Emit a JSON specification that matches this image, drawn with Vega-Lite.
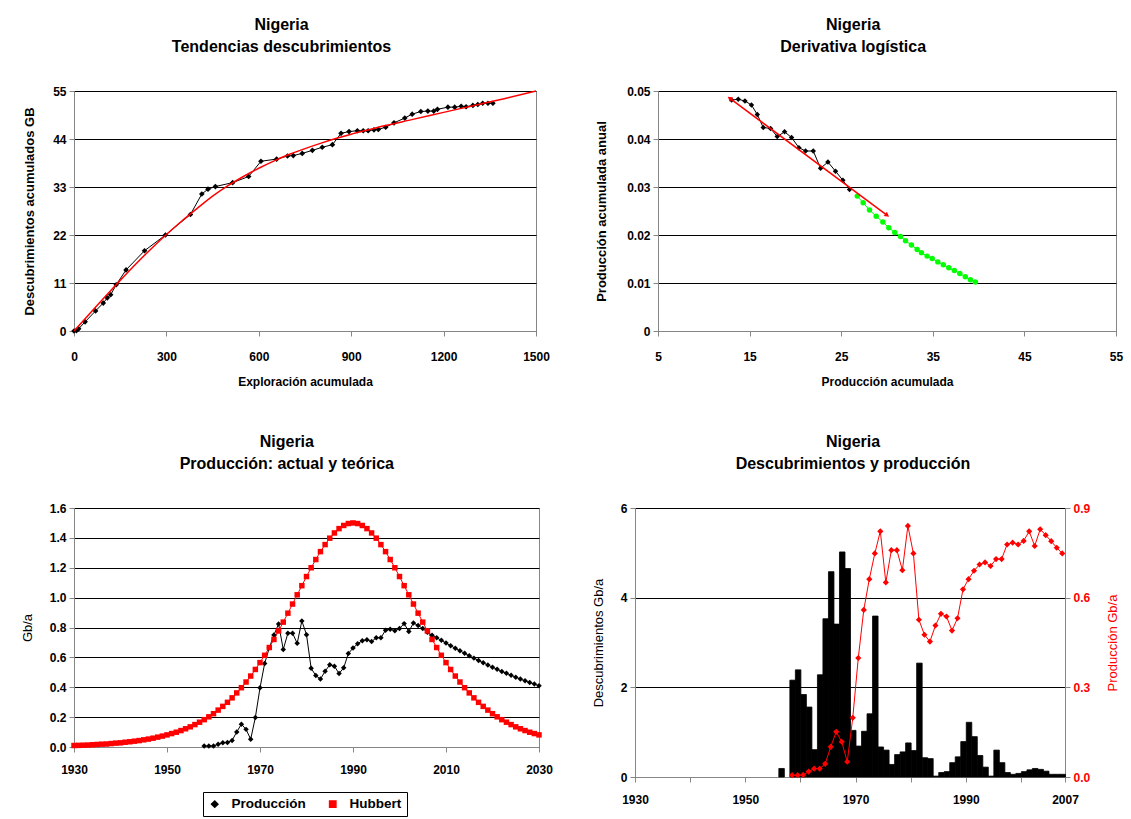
{
  "$schema": "https://vega.github.io/schema/vega-lite/v6.json",
  "padding": {"left": 20, "top": 16, "right": 2, "bottom": 0},
  "background": "white",
  "datasets": {
    "tl_obs": [
      {"x": 0, "y": 0}, {"x": 8, "y": 0.1}, {"x": 15, "y": 0.5}, {"x": 36, "y": 2.1}, {"x": 70, "y": 4.6}, {"x": 95, "y": 6.4}, {"x": 108, "y": 7.6}, {"x": 119, "y": 8.3}, {"x": 137, "y": 10.6}, {"x": 169, "y": 14.0}, {"x": 229, "y": 18.4}, {"x": 297, "y": 22.0}, {"x": 378, "y": 26.7}, {"x": 415, "y": 31.4}, {"x": 435, "y": 32.5}, {"x": 459, "y": 33.1}, {"x": 515, "y": 34.0}, {"x": 567, "y": 35.4}, {"x": 607, "y": 38.9}, {"x": 658, "y": 39.4}, {"x": 693, "y": 40.1}, {"x": 712, "y": 40.2}, {"x": 741, "y": 40.7}, {"x": 774, "y": 41.4}, {"x": 806, "y": 42.1}, {"x": 839, "y": 42.7}, {"x": 867, "y": 45.3}, {"x": 893, "y": 45.7}, {"x": 920, "y": 45.9}, {"x": 939, "y": 45.9}, {"x": 955, "y": 45.9}, {"x": 974, "y": 46.1}, {"x": 988, "y": 46.2}, {"x": 1012, "y": 46.7}, {"x": 1039, "y": 47.7}, {"x": 1074, "y": 48.8}, {"x": 1098, "y": 49.7}, {"x": 1126, "y": 50.3}, {"x": 1149, "y": 50.4}, {"x": 1168, "y": 50.4}, {"x": 1180, "y": 50.8}, {"x": 1214, "y": 51.3}, {"x": 1236, "y": 51.3}, {"x": 1257, "y": 51.5}, {"x": 1273, "y": 51.4}, {"x": 1295, "y": 51.7}, {"x": 1311, "y": 51.9}, {"x": 1327, "y": 52.2}, {"x": 1344, "y": 52.2}, {"x": 1360, "y": 52.2}
    ],
    "tl_fit": [
      {"x": 0, "y": 0}, {"x": 50, "y": 3.9}, {"x": 100, "y": 7.8}, {"x": 150, "y": 11.6}, {"x": 200, "y": 15.3}, {"x": 250, "y": 18.8}, {"x": 300, "y": 22.1}, {"x": 350, "y": 25.2}, {"x": 400, "y": 28.1}, {"x": 450, "y": 30.9}, {"x": 500, "y": 33.3}, {"x": 550, "y": 35.4}, {"x": 600, "y": 37.3}, {"x": 650, "y": 39.0}, {"x": 700, "y": 40.5}, {"x": 750, "y": 41.8}, {"x": 800, "y": 43.0}, {"x": 850, "y": 44.1}, {"x": 900, "y": 45.1}, {"x": 950, "y": 46.0}, {"x": 1000, "y": 46.9}, {"x": 1100, "y": 48.5}, {"x": 1200, "y": 50.1}, {"x": 1300, "y": 51.7}, {"x": 1400, "y": 53.3}, {"x": 1500, "y": 55.0}
    ],
    "tr_obs": [
      {"x": 13.04, "y": 0.0481}, {"x": 13.76, "y": 0.0483}, {"x": 14.49, "y": 0.0479}, {"x": 15.2, "y": 0.0471}, {"x": 15.84, "y": 0.0451}, {"x": 16.49, "y": 0.0424}, {"x": 17.29, "y": 0.0422}, {"x": 18.02, "y": 0.0405}, {"x": 18.82, "y": 0.0415}, {"x": 19.58, "y": 0.0403}, {"x": 20.38, "y": 0.0382}, {"x": 21.11, "y": 0.0375}, {"x": 21.95, "y": 0.0375}, {"x": 22.75, "y": 0.0339}, {"x": 23.55, "y": 0.0352}, {"x": 24.38, "y": 0.0333}, {"x": 25.18, "y": 0.0314}, {"x": 25.91, "y": 0.0295}
    ],
    "tr_green": [
      {"x": 26.75, "y": 0.0281}, {"x": 27.4, "y": 0.0267}, {"x": 28.09, "y": 0.0252}, {"x": 28.82, "y": 0.0239}, {"x": 29.55, "y": 0.0227}, {"x": 30.2, "y": 0.0215}, {"x": 30.85, "y": 0.0205}, {"x": 31.47, "y": 0.0197}, {"x": 32.02, "y": 0.0188}, {"x": 32.67, "y": 0.0179}, {"x": 33.29, "y": 0.017}, {"x": 33.76, "y": 0.0163}, {"x": 34.38, "y": 0.0156}, {"x": 34.93, "y": 0.0151}, {"x": 35.55, "y": 0.0144}, {"x": 36.15, "y": 0.0138}, {"x": 36.75, "y": 0.0132}, {"x": 37.35, "y": 0.0126}, {"x": 37.95, "y": 0.012}, {"x": 38.55, "y": 0.0113}, {"x": 39.1, "y": 0.0107}, {"x": 39.65, "y": 0.0102}
    ],
    "tr_arrow": [
      {"x": 12.82, "y": 0.0485, "end": "start"}, {"x": 30.02, "y": 0.0241, "end": "end"}
    ],
    "bl": [
      {"year": 1958, "v": 0.006, "serie": "Producción"}, {"year": 1959, "v": 0.006, "serie": "Producción"}, {"year": 1960, "v": 0.007, "serie": "Producción"}, {"year": 1961, "v": 0.018, "serie": "Producción"}, {"year": 1962, "v": 0.028, "serie": "Producción"}, {"year": 1963, "v": 0.03, "serie": "Producción"}, {"year": 1964, "v": 0.044, "serie": "Producción"}, {"year": 1965, "v": 0.101, "serie": "Producción"}, {"year": 1966, "v": 0.153, "serie": "Producción"}, {"year": 1967, "v": 0.118, "serie": "Producción"}, {"year": 1968, "v": 0.052, "serie": "Producción"}, {"year": 1969, "v": 0.198, "serie": "Producción"}, {"year": 1970, "v": 0.396, "serie": "Producción"}, {"year": 1971, "v": 0.559, "serie": "Producción"}, {"year": 1972, "v": 0.664, "serie": "Producción"}, {"year": 1973, "v": 0.75, "serie": "Producción"}, {"year": 1974, "v": 0.824, "serie": "Producción"}, {"year": 1975, "v": 0.653, "serie": "Producción"}, {"year": 1976, "v": 0.762, "serie": "Producción"}, {"year": 1977, "v": 0.762, "serie": "Producción"}, {"year": 1978, "v": 0.694, "serie": "Producción"}, {"year": 1979, "v": 0.844, "serie": "Producción"}, {"year": 1980, "v": 0.752, "serie": "Producción"}, {"year": 1981, "v": 0.527, "serie": "Producción"}, {"year": 1982, "v": 0.478, "serie": "Producción"}, {"year": 1983, "v": 0.455, "serie": "Producción"}, {"year": 1984, "v": 0.507, "serie": "Producción"}, {"year": 1985, "v": 0.55, "serie": "Producción"}, {"year": 1986, "v": 0.541, "serie": "Producción"}, {"year": 1987, "v": 0.492, "serie": "Producción"}, {"year": 1988, "v": 0.53, "serie": "Producción"}, {"year": 1989, "v": 0.626, "serie": "Producción"}, {"year": 1990, "v": 0.662, "serie": "Producción"}, {"year": 1991, "v": 0.691, "serie": "Producción"}, {"year": 1992, "v": 0.712, "serie": "Producción"}, {"year": 1993, "v": 0.718, "serie": "Producción"}, {"year": 1994, "v": 0.706, "serie": "Producción"}, {"year": 1995, "v": 0.731, "serie": "Producción"}, {"year": 1996, "v": 0.731, "serie": "Producción"}, {"year": 1997, "v": 0.782, "serie": "Producción"}, {"year": 1998, "v": 0.788, "serie": "Producción"}, {"year": 1999, "v": 0.779, "serie": "Producción"}, {"year": 2000, "v": 0.793, "serie": "Producción"}, {"year": 2001, "v": 0.826, "serie": "Producción"}, {"year": 2002, "v": 0.773, "serie": "Producción"}, {"year": 2003, "v": 0.83, "serie": "Producción"}, {"year": 2004, "v": 0.814, "serie": "Producción"}, {"year": 2005, "v": 0.793, "serie": "Producción"}, {"year": 2006, "v": 0.768, "serie": "Producción"}, {"year": 2007, "v": 0.748, "serie": "Producción"}, {"year": 2008, "v": 0.731, "serie": "Producción"}, {"year": 2009, "v": 0.714, "serie": "Producción"}, {"year": 2010, "v": 0.696, "serie": "Producción"}, {"year": 2011, "v": 0.678, "serie": "Producción"}, {"year": 2012, "v": 0.661, "serie": "Producción"}, {"year": 2013, "v": 0.644, "serie": "Producción"}, {"year": 2014, "v": 0.627, "serie": "Producción"}, {"year": 2015, "v": 0.611, "serie": "Producción"}, {"year": 2016, "v": 0.595, "serie": "Producción"}, {"year": 2017, "v": 0.579, "serie": "Producción"}, {"year": 2018, "v": 0.564, "serie": "Producción"}, {"year": 2019, "v": 0.549, "serie": "Producción"}, {"year": 2020, "v": 0.534, "serie": "Producción"}, {"year": 2021, "v": 0.52, "serie": "Producción"}, {"year": 2022, "v": 0.506, "serie": "Producción"}, {"year": 2023, "v": 0.493, "serie": "Producción"}, {"year": 2024, "v": 0.48, "serie": "Producción"}, {"year": 2025, "v": 0.467, "serie": "Producción"}, {"year": 2026, "v": 0.455, "serie": "Producción"}, {"year": 2027, "v": 0.443, "serie": "Producción"}, {"year": 2028, "v": 0.432, "serie": "Producción"}, {"year": 2029, "v": 0.421, "serie": "Producción"}, {"year": 2030, "v": 0.41, "serie": "Producción"},
      {"year": 1930, "v": 0.010, "serie": "Hubbert"}, {"year": 1931, "v": 0.011, "serie": "Hubbert"}, {"year": 1932, "v": 0.012, "serie": "Hubbert"}, {"year": 1933, "v": 0.013, "serie": "Hubbert"}, {"year": 1934, "v": 0.015, "serie": "Hubbert"}, {"year": 1935, "v": 0.017, "serie": "Hubbert"}, {"year": 1936, "v": 0.019, "serie": "Hubbert"}, {"year": 1937, "v": 0.020, "serie": "Hubbert"}, {"year": 1938, "v": 0.023, "serie": "Hubbert"}, {"year": 1939, "v": 0.026, "serie": "Hubbert"}, {"year": 1940, "v": 0.028, "serie": "Hubbert"}, {"year": 1941, "v": 0.032, "serie": "Hubbert"}, {"year": 1942, "v": 0.035, "serie": "Hubbert"}, {"year": 1943, "v": 0.039, "serie": "Hubbert"}, {"year": 1944, "v": 0.043, "serie": "Hubbert"}, {"year": 1945, "v": 0.048, "serie": "Hubbert"}, {"year": 1946, "v": 0.053, "serie": "Hubbert"}, {"year": 1947, "v": 0.059, "serie": "Hubbert"}, {"year": 1948, "v": 0.066, "serie": "Hubbert"}, {"year": 1949, "v": 0.073, "serie": "Hubbert"}, {"year": 1950, "v": 0.081, "serie": "Hubbert"}, {"year": 1951, "v": 0.090, "serie": "Hubbert"}, {"year": 1952, "v": 0.099, "serie": "Hubbert"}, {"year": 1953, "v": 0.110, "serie": "Hubbert"}, {"year": 1954, "v": 0.122, "serie": "Hubbert"}, {"year": 1955, "v": 0.135, "serie": "Hubbert"}, {"year": 1956, "v": 0.150, "serie": "Hubbert"}, {"year": 1957, "v": 0.166, "serie": "Hubbert"}, {"year": 1958, "v": 0.183, "serie": "Hubbert"}, {"year": 1959, "v": 0.202, "serie": "Hubbert"}, {"year": 1960, "v": 0.223, "serie": "Hubbert"}, {"year": 1961, "v": 0.247, "serie": "Hubbert"}, {"year": 1962, "v": 0.272, "serie": "Hubbert"}, {"year": 1963, "v": 0.299, "serie": "Hubbert"}, {"year": 1964, "v": 0.329, "serie": "Hubbert"}, {"year": 1965, "v": 0.362, "serie": "Hubbert"}, {"year": 1966, "v": 0.397, "serie": "Hubbert"}, {"year": 1967, "v": 0.435, "serie": "Hubbert"}, {"year": 1968, "v": 0.475, "serie": "Hubbert"}, {"year": 1969, "v": 0.519, "serie": "Hubbert"}, {"year": 1970, "v": 0.565, "serie": "Hubbert"}, {"year": 1971, "v": 0.614, "serie": "Hubbert"}, {"year": 1972, "v": 0.666, "serie": "Hubbert"}, {"year": 1973, "v": 0.720, "serie": "Hubbert"}, {"year": 1974, "v": 0.777, "serie": "Hubbert"}, {"year": 1975, "v": 0.836, "serie": "Hubbert"}, {"year": 1976, "v": 0.896, "serie": "Hubbert"}, {"year": 1977, "v": 0.957, "serie": "Hubbert"}, {"year": 1978, "v": 1.019, "serie": "Hubbert"}, {"year": 1979, "v": 1.080, "serie": "Hubbert"}, {"year": 1980, "v": 1.141, "serie": "Hubbert"}, {"year": 1981, "v": 1.200, "serie": "Hubbert"}, {"year": 1982, "v": 1.255, "serie": "Hubbert"}, {"year": 1983, "v": 1.308, "serie": "Hubbert"}, {"year": 1984, "v": 1.355, "serie": "Hubbert"}, {"year": 1985, "v": 1.398, "serie": "Hubbert"}, {"year": 1986, "v": 1.433, "serie": "Hubbert"}, {"year": 1987, "v": 1.462, "serie": "Hubbert"}, {"year": 1988, "v": 1.483, "serie": "Hubbert"}, {"year": 1989, "v": 1.496, "serie": "Hubbert"}, {"year": 1990, "v": 1.500, "serie": "Hubbert"}, {"year": 1991, "v": 1.496, "serie": "Hubbert"}, {"year": 1992, "v": 1.483, "serie": "Hubbert"}, {"year": 1993, "v": 1.462, "serie": "Hubbert"}, {"year": 1994, "v": 1.433, "serie": "Hubbert"}, {"year": 1995, "v": 1.398, "serie": "Hubbert"}, {"year": 1996, "v": 1.355, "serie": "Hubbert"}, {"year": 1997, "v": 1.308, "serie": "Hubbert"}, {"year": 1998, "v": 1.255, "serie": "Hubbert"}, {"year": 1999, "v": 1.200, "serie": "Hubbert"}, {"year": 2000, "v": 1.141, "serie": "Hubbert"}, {"year": 2001, "v": 1.080, "serie": "Hubbert"}, {"year": 2002, "v": 1.019, "serie": "Hubbert"}, {"year": 2003, "v": 0.957, "serie": "Hubbert"}, {"year": 2004, "v": 0.896, "serie": "Hubbert"}, {"year": 2005, "v": 0.836, "serie": "Hubbert"}, {"year": 2006, "v": 0.777, "serie": "Hubbert"}, {"year": 2007, "v": 0.720, "serie": "Hubbert"}, {"year": 2008, "v": 0.666, "serie": "Hubbert"}, {"year": 2009, "v": 0.614, "serie": "Hubbert"}, {"year": 2010, "v": 0.565, "serie": "Hubbert"}, {"year": 2011, "v": 0.519, "serie": "Hubbert"}, {"year": 2012, "v": 0.475, "serie": "Hubbert"}, {"year": 2013, "v": 0.435, "serie": "Hubbert"}, {"year": 2014, "v": 0.397, "serie": "Hubbert"}, {"year": 2015, "v": 0.362, "serie": "Hubbert"}, {"year": 2016, "v": 0.329, "serie": "Hubbert"}, {"year": 2017, "v": 0.299, "serie": "Hubbert"}, {"year": 2018, "v": 0.272, "serie": "Hubbert"}, {"year": 2019, "v": 0.247, "serie": "Hubbert"}, {"year": 2020, "v": 0.223, "serie": "Hubbert"}, {"year": 2021, "v": 0.202, "serie": "Hubbert"}, {"year": 2022, "v": 0.183, "serie": "Hubbert"}, {"year": 2023, "v": 0.166, "serie": "Hubbert"}, {"year": 2024, "v": 0.150, "serie": "Hubbert"}, {"year": 2025, "v": 0.135, "serie": "Hubbert"}, {"year": 2026, "v": 0.122, "serie": "Hubbert"}, {"year": 2027, "v": 0.110, "serie": "Hubbert"}, {"year": 2028, "v": 0.099, "serie": "Hubbert"}, {"year": 2029, "v": 0.090, "serie": "Hubbert"}, {"year": 2030, "v": 0.081, "serie": "Hubbert"}
    ],
    "br_disc": [
      {"year": "1956", "d": 0.19}, {"year": "1958", "d": 2.16}, {"year": "1959", "d": 2.39}, {"year": "1960", "d": 1.84}, {"year": "1961", "d": 1.56}, {"year": "1962", "d": 0.61}, {"year": "1963", "d": 2.28}, {"year": "1964", "d": 3.53}, {"year": "1965", "d": 4.58}, {"year": "1966", "d": 3.41}, {"year": "1967", "d": 5.02}, {"year": "1968", "d": 4.65}, {"year": "1969", "d": 1.04}, {"year": "1970", "d": 0.69}, {"year": "1971", "d": 1.02}, {"year": "1972", "d": 1.41}, {"year": "1973", "d": 3.59}, {"year": "1974", "d": 0.67}, {"year": "1975", "d": 0.6}, {"year": "1976", "d": 0.28}, {"year": "1977", "d": 0.5}, {"year": "1978", "d": 0.56}, {"year": "1979", "d": 0.76}, {"year": "1980", "d": 0.59}, {"year": "1981", "d": 2.54}, {"year": "1982", "d": 0.43}, {"year": "1983", "d": 0.41}, {"year": "1984", "d": 0.02}, {"year": "1985", "d": 0.1}, {"year": "1986", "d": 0.12}, {"year": "1987", "d": 0.32}, {"year": "1988", "d": 0.45}, {"year": "1989", "d": 0.79}, {"year": "1990", "d": 1.22}, {"year": "1991", "d": 0.9}, {"year": "1992", "d": 0.48}, {"year": "1993", "d": 0.22}, {"year": "1994", "d": 0.02}, {"year": "1995", "d": 0.6}, {"year": "1996", "d": 0.32}, {"year": "1997", "d": 0.1}, {"year": "1998", "d": 0.06}, {"year": "1999", "d": 0.08}, {"year": "2000", "d": 0.12}, {"year": "2001", "d": 0.16}, {"year": "2002", "d": 0.19}, {"year": "2003", "d": 0.17}, {"year": "2004", "d": 0.13}, {"year": "2005", "d": 0.06}, {"year": "2006", "d": 0.06}, {"year": "2007", "d": 0.06}
    ],
    "br_prod": [
      {"year": "1958", "p": 0.006}, {"year": "1959", "p": 0.006}, {"year": "1960", "p": 0.007}, {"year": "1961", "p": 0.018}, {"year": "1962", "p": 0.028}, {"year": "1963", "p": 0.028}, {"year": "1964", "p": 0.044}, {"year": "1965", "p": 0.101}, {"year": "1966", "p": 0.151}, {"year": "1967", "p": 0.118}, {"year": "1968", "p": 0.051}, {"year": "1969", "p": 0.198}, {"year": "1970", "p": 0.398}, {"year": "1971", "p": 0.559}, {"year": "1972", "p": 0.662}, {"year": "1973", "p": 0.748}, {"year": "1974", "p": 0.822}, {"year": "1975", "p": 0.651}, {"year": "1976", "p": 0.759}, {"year": "1977", "p": 0.759}, {"year": "1978", "p": 0.692}, {"year": "1979", "p": 0.84}, {"year": "1980", "p": 0.748}, {"year": "1981", "p": 0.526}, {"year": "1982", "p": 0.476}, {"year": "1983", "p": 0.453}, {"year": "1984", "p": 0.507}, {"year": "1985", "p": 0.546}, {"year": "1986", "p": 0.537}, {"year": "1987", "p": 0.49}, {"year": "1988", "p": 0.531}, {"year": "1989", "p": 0.628}, {"year": "1990", "p": 0.662}, {"year": "1991", "p": 0.69}, {"year": "1992", "p": 0.711}, {"year": "1993", "p": 0.718}, {"year": "1994", "p": 0.706}, {"year": "1995", "p": 0.729}, {"year": "1996", "p": 0.729}, {"year": "1997", "p": 0.778}, {"year": "1998", "p": 0.784}, {"year": "1999", "p": 0.778}, {"year": "2000", "p": 0.79}, {"year": "2001", "p": 0.822}, {"year": "2002", "p": 0.773}, {"year": "2003", "p": 0.829}, {"year": "2004", "p": 0.809}, {"year": "2005", "p": 0.789}, {"year": "2006", "p": 0.767}, {"year": "2007", "p": 0.748}
    ]
  },
  "resolve": {"scale": {"color": "independent", "shape": "independent", "size": "independent", "stroke": "independent"}},
  "vconcat": [
    {
      "resolve": {"scale": {"color": "independent", "shape": "independent", "size": "independent", "stroke": "independent"}},
      "hconcat": [
        {
          "title": {"text": ["Nigeria", "Tendencias descubrimientos"], "dx": -5},
          "width": 462,
          "height": 240,
          "layer": [
            {
              "data": {"name": "tl_obs"},
              "mark": {"type": "line", "color": "black", "strokeWidth": 1},
              "encoding": {
                "x": {"field": "x", "type": "quantitative", "scale": {"domain": [0, 1500], "nice": false}, "axis": {"values": [0, 300, 600, 900, 1200, 1500], "format": "d", "title": "Exploración acumulada", "labelPadding": 15}},
                "y": {"field": "y", "type": "quantitative", "scale": {"domain": [0, 55], "nice": false}, "axis": {"values": [0, 11, 22, 33, 44, 55], "format": "d", "title": "Descubrimientos acumulados GB", "titleFontSize": 13, "titlePadding": 16}}
              }
            },
            {
              "data": {"name": "tl_obs"},
              "mark": {"type": "point", "shape": "diamond", "filled": true, "color": "black", "size": 32, "opacity": 1},
              "encoding": {
                "x": {"field": "x", "type": "quantitative"},
                "y": {"field": "y", "type": "quantitative"}
              }
            },
            {
              "data": {"name": "tl_fit"},
              "mark": {"type": "line", "color": "#ff0000", "strokeWidth": 1.5, "interpolate": "monotone"},
              "encoding": {
                "x": {"field": "x", "type": "quantitative"},
                "y": {"field": "y", "type": "quantitative"}
              }
            }
          ]
        },
        {
          "title": {"text": ["Nigeria", "Derivativa logística"], "dx": -6},
          "width": 458,
          "height": 240,
          "layer": [
            {
              "data": {"name": "tr_obs"},
              "mark": {"type": "line", "color": "black", "strokeWidth": 1},
              "encoding": {
                "x": {"field": "x", "type": "quantitative", "scale": {"domain": [5, 55], "nice": false, "zero": false}, "axis": {"values": [5, 15, 25, 35, 45, 55], "title": "Producción acumulada", "labelPadding": 15}},
                "y": {"field": "y", "type": "quantitative", "scale": {"domain": [0, 0.05], "nice": false}, "axis": {"values": [0, 0.01, 0.02, 0.03, 0.04, 0.05], "format": "~g", "title": "Producción acumulada anual", "titleFontSize": 13, "titlePadding": 18}}
              }
            },
            {
              "data": {"name": "tr_obs"},
              "mark": {"type": "point", "shape": "diamond", "filled": true, "color": "black", "size": 30, "opacity": 1},
              "encoding": {
                "x": {"field": "x", "type": "quantitative"},
                "y": {"field": "y", "type": "quantitative"}
              }
            },
            {
              "data": {"name": "tr_green"},
              "mark": {"type": "line", "color": "#00ff00", "strokeWidth": 1},
              "encoding": {
                "x": {"field": "x", "type": "quantitative"},
                "y": {"field": "y", "type": "quantitative"}
              }
            },
            {
              "data": {"name": "tr_green"},
              "mark": {"type": "point", "shape": "circle", "filled": true, "color": "#00ff00", "size": 30, "opacity": 1},
              "encoding": {
                "x": {"field": "x", "type": "quantitative"},
                "y": {"field": "y", "type": "quantitative"}
              }
            },
            {
              "data": {"name": "tr_arrow"},
              "mark": {"type": "line", "color": "#ff0000", "strokeWidth": 1.5},
              "encoding": {
                "x": {"field": "x", "type": "quantitative"},
                "y": {"field": "y", "type": "quantitative"}
              }
            },
            {
              "data": {"name": "tr_arrow"},
              "transform": [{"filter": "datum.end == 'start'"}],
              "mark": {"type": "point", "shape": "triangle-left", "filled": true, "color": "#ff0000", "size": 30, "opacity": 1, "angle": 36.6},
              "encoding": {
                "x": {"field": "x", "type": "quantitative"},
                "y": {"field": "y", "type": "quantitative"}
              }
            },
            {
              "data": {"name": "tr_arrow"},
              "transform": [{"filter": "datum.end == 'end'"}],
              "mark": {"type": "point", "shape": "triangle-right", "filled": true, "color": "#ff0000", "size": 30, "opacity": 1, "angle": 36.6},
              "encoding": {
                "x": {"field": "x", "type": "quantitative"},
                "y": {"field": "y", "type": "quantitative"}
              }
            }
          ]
        }
      ],
      "spacing": 45
    },
    {
      "resolve": {"scale": {"color": "independent", "shape": "independent", "size": "independent", "stroke": "independent"}},
      "hconcat": [
        {
          "title": {"text": ["Nigeria", "Producción: actual y teórica"]},
          "width": 465,
          "height": 239,
          "data": {"name": "bl"},
          "layer": [
            {
              "mark": {"type": "line", "strokeWidth": 1},
              "encoding": {
                "x": {"field": "year", "type": "quantitative", "scale": {"domain": [1930, 2030], "nice": false, "zero": false}, "axis": {"values": [1930, 1950, 1970, 1990, 2010, 2030], "format": "d", "title": null}},
                "y": {"field": "v", "type": "quantitative", "scale": {"domain": [0, 1.6], "nice": false}, "axis": {"values": [0, 0.2, 0.4, 0.6, 0.8, 1, 1.2, 1.4, 1.6], "format": ".1f", "title": "Gb/a", "titleFontWeight": "normal", "titleFontSize": 13, "titlePadding": 15}},
                "color": {"field": "serie", "type": "nominal", "scale": {"domain": ["Producción", "Hubbert"], "range": ["black", "#ff0000"]}, "legend": {"orient": "none", "legendX": 129, "legendY": 284, "direction": "horizontal", "title": null, "strokeColor": "black", "padding": 5, "labelFontWeight": "bold", "labelFontSize": 13.5, "labelFont": "Liberation Sans", "labelColor": "black", "labelOffset": 10, "symbolSize": 40, "columnPadding": 20}}
              }
            },
            {
              "mark": {"type": "point", "filled": true, "opacity": 1, "size": 30},
              "encoding": {
                "x": {"field": "year", "type": "quantitative", "scale": {"domain": [1930, 2030], "nice": false, "zero": false}, "axis": {"values": [1930, 1950, 1970, 1990, 2010, 2030], "format": "d", "title": null}},
                "y": {"field": "v", "type": "quantitative", "scale": {"domain": [0, 1.6], "nice": false}, "axis": {"values": [0, 0.2, 0.4, 0.6, 0.8, 1, 1.2, 1.4, 1.6], "format": ".1f", "title": "Gb/a", "titleFontWeight": "normal", "titleFontSize": 13, "titlePadding": 15}},
                "color": {"field": "serie", "type": "nominal", "scale": {"domain": ["Producción", "Hubbert"], "range": ["black", "#ff0000"]}, "legend": {"orient": "none", "legendX": 129, "legendY": 284, "direction": "horizontal", "title": null, "strokeColor": "black", "padding": 5, "labelFontWeight": "bold", "labelFontSize": 13.5, "labelFont": "Liberation Sans", "labelColor": "black", "labelOffset": 10, "symbolSize": 40, "columnPadding": 20}},
                "shape": {"field": "serie", "type": "nominal", "scale": {"domain": ["Producción", "Hubbert"], "range": ["diamond", "square"]}, "legend": {"orient": "none", "legendX": 129, "legendY": 284, "direction": "horizontal", "title": null, "strokeColor": "black", "padding": 5, "labelFontWeight": "bold", "labelFontSize": 13.5, "labelFont": "Liberation Sans", "labelColor": "black", "labelOffset": 10, "symbolSize": 40, "columnPadding": 20}}
              }
            }
          ]
        },
        {
          "title": {"text": ["Nigeria", "Descubrimientos y producción"], "dx": -3},
          "width": 430,
          "height": 269,
          "layer": [
            {
              "data": {"name": "br_disc"},
              "mark": {"type": "bar", "color": "black", "timeUnitBandSize": 1, "timeUnitBandPosition": 0, "binSpacing": 0, "stroke": "black", "strokeWidth": 0.8},
              "encoding": {
                "x": {"field": "year", "type": "temporal", "timeUnit": "utcyear", "scale": {"domain": [{"year": 1930, "utc": true}, {"year": 2008, "utc": true}]}, "axis": {"values": [{"year": 1930, "utc": true}, {"year": 1940, "utc": true}, {"year": 1950, "utc": true}, {"year": 1960, "utc": true}, {"year": 1970, "utc": true}, {"year": 1980, "utc": true}, {"year": 1990, "utc": true}, {"year": 2000, "utc": true}, {"year": 2008, "utc": true}], "labelExpr": "utcFormat(datum.value, '%Y') == '2008' ? '2007' : (indexof(['1930','1950','1970','1990'], utcFormat(datum.value, '%Y')) >= 0 ? utcFormat(datum.value, '%Y') : '')", "title": null}},
                "y": {"field": "d", "type": "quantitative", "scale": {"domain": [0, 6], "nice": false}, "axis": {"values": [0, 2, 4, 6], "format": "d", "title": "Descubrimientos Gb/a", "titleFontWeight": "normal", "titleFontSize": 13, "titlePadding": 15}}
              }
            },
            {
              "data": {"name": "br_prod"},
              "mark": {"type": "line", "color": "#ff0000", "strokeWidth": 1},
              "encoding": {
                "x": {"field": "year", "type": "temporal", "timeUnit": "utcyear", "bandPosition": 0.5},
                "y": {"field": "p", "type": "quantitative", "scale": {"domain": [0, 0.9], "nice": false}, "axis": {"orient": "right", "grid": false, "values": [0, 0.3, 0.6, 0.9], "format": ".1f", "labelColor": "#ff0000", "title": "Producción Gb/a", "titleColor": "#ff0000", "titleFontWeight": "normal", "titleFontSize": 13, "titleAngle": 270, "titleBaseline": "top", "labelPadding": 3, "titlePadding": 17}}
              }
            },
            {
              "data": {"name": "br_prod"},
              "mark": {"type": "point", "shape": "diamond", "filled": true, "color": "#ff0000", "size": 38, "opacity": 1},
              "encoding": {
                "x": {"field": "year", "type": "temporal", "timeUnit": "utcyear", "bandPosition": 0.5},
                "y": {"field": "p", "type": "quantitative", "scale": {"domain": [0, 0.9], "nice": false}, "axis": null}
              }
            }
          ],
          "resolve": {"scale": {"y": "independent"}}
        }
      ],
      "spacing": 38
    }
  ],
  "spacing": 45,
  "config": {
    "font": "Liberation Sans",
    "view": {"stroke": "#868686", "strokeWidth": 1},
    "axis": {
      "labelFont": "Liberation Sans", "labelFontWeight": "bold", "labelFontSize": 12, "labelColor": "black",
      "titleFont": "Liberation Sans", "titleFontWeight": "bold", "titleFontSize": 12, "titleColor": "black",
      "domainColor": "#868686", "tickColor": "#868686", "tickSize": 5, "grid": false, "labelFlush": false, "labelOverlap": false
    },
    "axisY": {"grid": true, "gridColor": "black", "gridOpacity": 1, "gridWidth": 1, "labelPadding": 3, "titlePadding": 12},
    "axisX": {"labelPadding": 12, "titlePadding": 14},
    "title": {"fontSize": 16, "font": "Liberation Sans", "fontWeight": "bold", "anchor": "middle", "frame": "bounds", "offset": 30, "lineHeight": 22, "color": "black"}
  }
}
